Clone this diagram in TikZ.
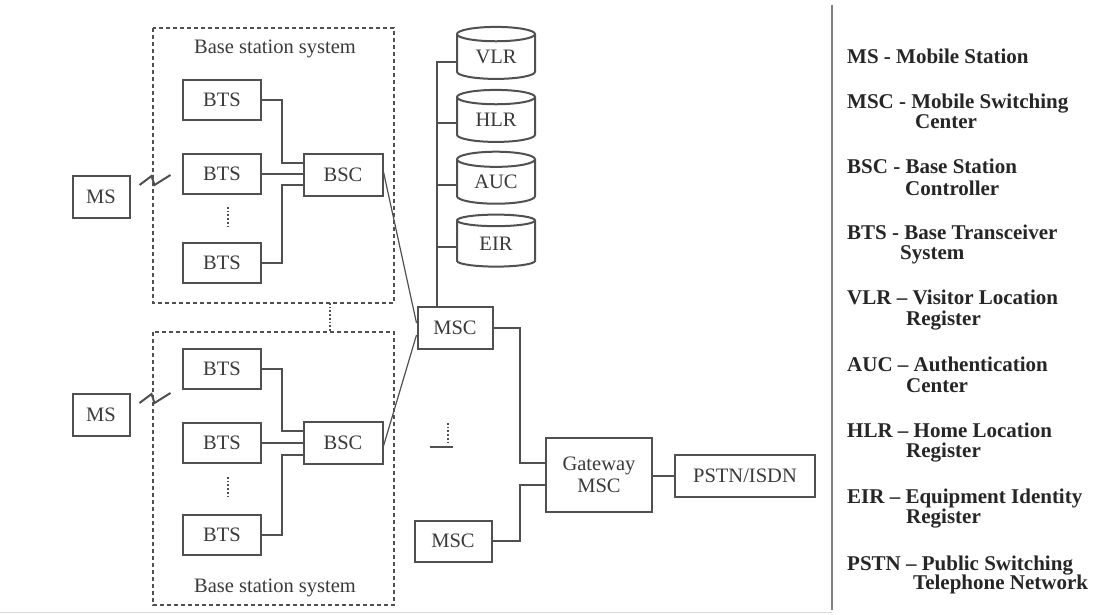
\documentclass[tikz,border=0pt]{standalone}
\usepackage{fontspec}
\setmainfont{Liberation Serif}
\usetikzlibrary{shapes.geometric}
\definecolor{linegray}{HTML}{505050}
\definecolor{textgray}{HTML}{3A3A3A}
\begin{document}
\begin{tikzpicture}[x=1pt,y=-1pt]
    \tikzset{
        unit/.style={draw=linegray, line width=2pt, text=textgray, inner sep=0pt,
            font=\fontsize{20.5}{22}\selectfont, align=center},
        db/.style={unit, cylinder, shape border rotate=90, aspect=0.35,
            minimum width=78pt, minimum height=52pt},
        link/.style={draw=linegray, line width=1.7pt},
        bss/.style={draw=linegray, line width=1.5pt, dash pattern=on 4pt off 3pt},
        legend/.style={anchor=base west, inner sep=0pt, text=black!85,
            font=\fontsize{21}{23}\selectfont\bfseries}
    }
    \useasboundingbox (0,0) rectangle (1095,615);
    \fill[white] (0,0) rectangle (1095,615);

    % base station systems
    \draw[bss] (153,28) rectangle (394,303);
    \draw[bss] (153,332) rectangle (394,605);
    \draw[link, dotted] (330,303) -- (330,332);
    \node[text=textgray, font=\fontsize{20.5}{22}\selectfont] (bsst) at (275,49) {Base station system};
    \node[text=textgray, font=\fontsize{20.5}{22}\selectfont] (bssb) at (275,588) {Base station system};

    % upper system
    \draw node[unit, minimum width=57pt, minimum height=42pt] (ms1) at (101,197) {MS};
    \draw node[unit, minimum width=78pt, minimum height=40pt] (t1) at (222,100) {BTS};
    \draw node[unit, minimum width=78pt, minimum height=40pt] (t2) at (222,174) {BTS};
    \draw node[unit, minimum width=78pt, minimum height=40pt] (t3) at (222,263) {BTS};
    \draw node[unit, minimum width=79pt, minimum height=42pt] (c1) at (343,175) {BSC};
    \draw[link, dotted] (228,207) -- (228,228);

    % lower system
    \draw node[unit, minimum width=57pt, minimum height=42pt] (ms2) at (101,415) {MS};
    \draw node[unit, minimum width=78pt, minimum height=40pt] (t4) at (222,369) {BTS};
    \draw node[unit, minimum width=78pt, minimum height=40pt] (t5) at (222,443) {BTS};
    \draw node[unit, minimum width=78pt, minimum height=40pt] (t6) at (222,535) {BTS};
    \draw node[unit, minimum width=79pt, minimum height=42pt] (c2) at (343,443) {BSC};
    \draw[link, dotted] (228,477) -- (228,498);

    % switching part
    \draw node[unit, minimum width=75pt, minimum height=42pt] (m1) at (455,328) {MSC};
    \draw node[unit, minimum width=77pt, minimum height=41pt] (m2) at (453,541) {MSC};
    \draw node[unit, minimum width=106pt, minimum height=74pt] (gw) at (599,475) {Gateway\\MSC};
    \draw node[unit, minimum width=140pt, minimum height=42pt] (pstn) at (745,476) {PSTN/ISDN};
    \draw[link, dotted] (448,423) -- (448,443);
    \draw[link] (430,447) -- (453,447);

    % registers
    \draw node[db] (vlr) at (496,57) {VLR};
    \draw node[db] (hlr) at (496,120) {HLR};
    \draw node[db] (auc) at (496,182) {AUC};
    \draw node[db] (eir) at (496,244) {EIR};
    \draw[link] (m1.north -| 437,0) -- (437,62) -- (vlr.west |- 437,62);
    \foreach \r/\y in {hlr/123,auc/185,eir/247} {
        \draw[link] (437,\y) -- (\r.west |- 437,\y);
    }

    % radio links
    \foreach \m in {ms1,ms2} {
        \draw[link, line width=2pt] ([xshift=9pt,yshift=-10pt]\m.north east) -- ++(12,-9) -- ++(3,9) -- ++(16,-10);
    }

    % BTS to BSC
    \foreach \t/\c/\y in {t1/c1/163, t3/c1/185, t4/c2/431, t6/c2/455} {
        \draw[link] (\t.east) -- (\t.east -| 282,0) -- (282,\y) -- (\c.west |- 282,\y);
    }
    \foreach \t/\c in {t2/c1, t5/c2} {
        \draw[link] (\t.east) -- (\c.west |- \t.east);
    }

    % BSC to MSC
    \draw[link, line width=1.2pt] ([yshift=3pt]c1.east) -- ([yshift=5pt]m1.west);
    \draw[link, line width=1.2pt] ([yshift=-3pt]c2.east) -- ([yshift=-7pt]m1.west);

    % MSC to gateway
    \draw[link] (m1.east) -- (520,328) -- (520,463) -- (gw.west |- 520,463);
    \draw[link] (m2.east) -- (520,541) -- (520,485) -- (gw.west |- 520,485);
    \draw[link] (gw.east |- pstn.west) -- (pstn.west);

    % legend
    \draw[draw=gray, line width=1.5pt] (832,5) -- (832,610);
    \draw[draw=black!15, line width=1pt] (0,612) -- (832,612);
    \node[legend] (l1) at (847,64) {MS - Mobile Station};
    \node[legend] (l2) at (847,109) {MSC - Mobile Switching};
    \node[legend] (l2b) at (915,129) {Center};
    \node[legend] (l3) at (847,174) {BSC - Base Station};
    \node[legend] (l3b) at (905,195) {Controller};
    \node[legend] (l4) at (847,239) {BTS - Base Transceiver};
    \node[legend] (l4b) at (900,259) {System};
    \node[legend] (l5) at (847,304) {VLR – Visitor Location};
    \node[legend] (l5b) at (906,325) {Register};
    \node[legend] (l6) at (847,371) {AUC – Authentication};
    \node[legend] (l6b) at (906,392) {Center};
    \node[legend] (l7) at (847,437) {HLR – Home Location};
    \node[legend] (l7b) at (906,457) {Register};
    \node[legend] (l8) at (847,503) {EIR – Equipment Identity};
    \node[legend] (l8b) at (906,523) {Register};
    \node[legend] (l9) at (847,570) {PSTN – Public Switching};
    \node[legend] (l9b) at (913,589) {Telephone Network};
\end{tikzpicture}
\end{document}
